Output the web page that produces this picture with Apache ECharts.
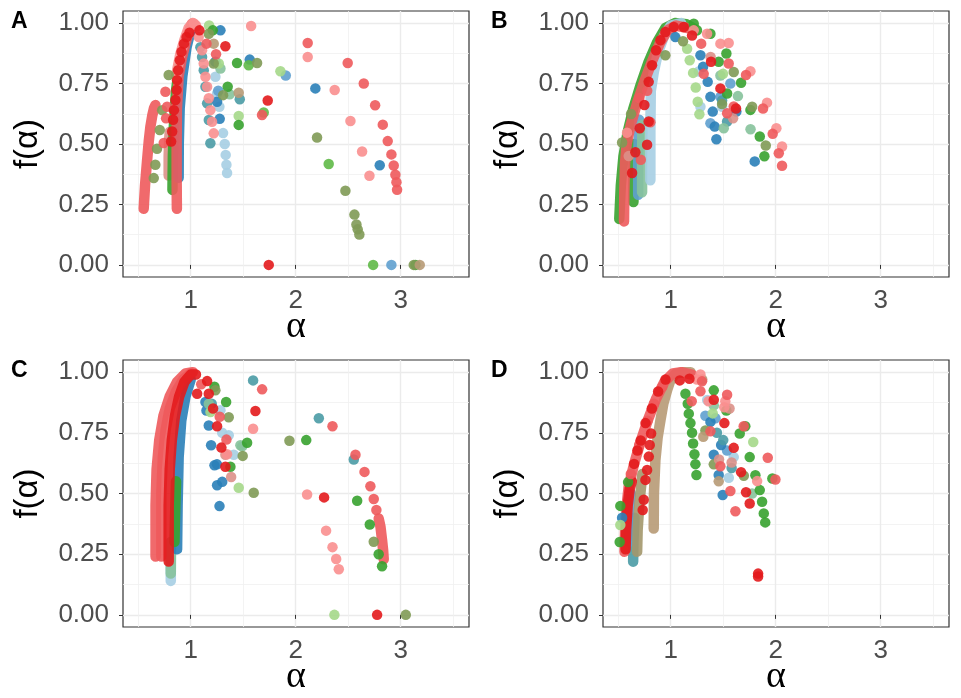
<!DOCTYPE html>
<html>
<head>
<meta charset="utf-8">
<script src="https://cdn.jsdelivr.net/npm/echarts@6/dist/echarts.min.js"></script>
<style>
  html, body { margin: 0; padding: 0; background: #fff; }
  #chart { width: 961px; height: 698px; }
</style>
</head>
<body>
<div id="chart"></div>
<script>
// tick values
const xMajorTicks = [1, 2, 3];
const xMinorTicks = [0.5, 1.5, 2.5, 3.5];
const yMajorTicks = [0, 0.25, 0.5, 0.75, 1];
const yMinorTicks = [0.125, 0.375, 0.625, 0.875];
const panelLetters = ['A', 'B', 'C', 'D'];

// ---- panel A ----
const aBandSalmonL = [[0.552,0.232],[0.565,0.33],[0.585,0.435],[0.600,0.51],[0.616,0.572],[0.635,0.62],[0.650,0.648],[0.664,0.661]];
const aBandRose = [[0.79,0.37],[0.79,0.45],[0.795,0.52],[0.80,0.55]];
const aBandGreen = [[0.826,0.31],[0.83,0.45],[0.84,0.58],[0.86,0.72],[0.89,0.82]];
const aBandBlue = [[0.885,0.36],[0.886,0.5],[0.895,0.65],[0.92,0.78],[0.96,0.9],[1.0,0.97]];
const aBandRed = [[0.868,0.232],[0.866,0.35],[0.866,0.5],[0.868,0.64],[0.885,0.78],[0.918,0.86],[0.95,0.915],[0.98,0.963],[1.01,0.997]];
const aBandPink = [[0.86,0.78],[0.9,0.87],[0.94,0.93],[0.98,0.98],[1.02,1.0],[1.05,0.99]];
const aRed = [[0.813,0.51],[0.823,0.552],[0.832,0.6],[0.84,0.64],[0.854,0.682],[0.865,0.723],[0.87,0.764],[0.88,0.805],[0.896,0.846],[0.912,0.881],[0.935,0.915],[0.96,0.942],[0.988,0.96],[1.083,0.97],[1.33,0.904],[1.733,0.68],[1.743,0.0]];
const aSalmon = [[0.743,0.504],[0.765,0.606],[0.759,0.716],[0.775,0.654],[1.15,0.915],[1.241,0.871],[1.679,0.62],[2.114,0.918],[2.495,0.835],[2.648,0.75],[2.756,0.66],[2.829,0.58],[2.876,0.512],[2.911,0.457],[2.933,0.411],[2.949,0.373],[2.959,0.342],[2.965,0.311]];
const aPink = [[1.03,0.998],[1.05,0.985],[1.076,0.942],[1.108,0.888],[1.124,0.833],[1.14,0.778],[1.156,0.737],[1.172,0.689],[1.187,0.64],[1.203,0.592],[1.219,0.544],[1.575,0.988],[2.114,0.86],[2.371,0.723],[2.521,0.595],[2.632,0.469],[2.702,0.369]];
const aTan = [[1.219,0.915],[1.457,0.712],[3.181,0.0]];
const aTeal = [[1.092,0.9],[1.108,0.86],[1.124,0.805],[1.14,0.737],[1.156,0.668],[1.172,0.599],[1.187,0.503],[1.467,0.685]];
const aLBlue = [[1.235,0.778],[1.251,0.709],[1.273,0.654],[1.308,0.545],[1.324,0.5],[1.333,0.455],[1.34,0.414],[1.346,0.38]];
const aMBlue = [[1.905,0.783],[2.911,0.0],[1.262,0.72]];
const aBlue = [[1.283,0.97],[1.562,0.849],[2.187,0.73],[2.8,0.412],[1.276,0.604],[1.251,0.675],[1.235,0.84]];
const aSage = [[1.371,0.706],[1.283,0.812]];
const aLGreen = [[1.175,0.99],[1.854,0.801],[1.457,0.616],[1.267,0.833]];
const aMGreen = [[1.552,0.826],[2.314,0.417],[2.737,0.0],[1.695,0.63]];
const aGreen = [[1.441,0.835],[1.457,0.579],[1.352,0.737],[3.14,0.0],[1.21,0.97]];
const aOlive = [[0.648,0.359],[0.663,0.414],[0.679,0.48],[0.705,0.558],[0.728,0.64],[0.79,0.785],[1.219,0.833],[1.308,0.702],[1.632,0.835],[2.203,0.527],[2.473,0.307],[2.559,0.208],[2.578,0.167],[2.59,0.147],[2.606,0.126],[3.124,0.0],[1.172,0.956]];

// ---- panel B ----
const bBandGreen = [[0.51,0.19],[0.525,0.33],[0.55,0.45],[0.59,0.55],[0.64,0.64],[0.71,0.74],[0.79,0.84],[0.87,0.92],[0.95,0.98],[1.04,1.0],[1.15,0.995],[1.25,0.97]];
const bBandGreen2 = [[0.645,0.26],[0.645,0.4],[0.65,0.5]];
const bBandSage = [[0.727,0.30],[0.727,0.45],[0.73,0.58]];
const bBandMBlue = [[0.69,0.29],[0.69,0.45],[0.70,0.6]];
const bBandLBlue = [[0.806,0.35],[0.806,0.55],[0.81,0.72],[0.84,0.8],[0.88,0.88],[0.94,0.95],[1.0,0.99],[1.1,1.0]];
const bBandSalmon = [[0.555,0.18],[0.558,0.30],[0.565,0.42],[0.58,0.5],[0.62,0.58],[0.68,0.67],[0.75,0.76],[0.82,0.84],[0.9,0.92],[0.97,0.97],[1.05,0.99],[1.15,0.98]];
const bRed = [[0.632,0.38],[0.663,0.466],[0.705,0.565],[0.749,0.661],[0.79,0.757],[0.822,0.826],[0.86,0.888],[0.902,0.929],[0.949,0.963],[1.029,0.984],[1.124,0.984],[1.203,0.949],[1.384,0.84],[1.473,0.73],[1.622,0.647],[0.79,0.593],[0.775,0.497]];
const bSalmon = [[0.715,0.435],[0.776,0.72],[0.806,0.59],[0.7,0.69],[1.29,0.915],[1.314,0.79],[1.552,0.833],[1.537,0.627],[1.717,0.785],[1.879,0.647],[1.971,0.542],[2.029,0.462],[2.06,0.41],[1.6,0.655]];
const bPink = [[1.552,0.918],[1.759,0.801],[1.917,0.671],[2.006,0.565],[2.06,0.49],[1.473,0.915],[1.346,0.956],[1.219,0.97],[0.584,0.547]];
const bRose = [[1.594,0.606],[1.38,0.86],[0.6,0.45]];
const bBlue = [[1.352,0.757],[1.378,0.695],[1.4,0.634],[1.419,0.572],[1.435,0.52],[1.8,0.428],[1.308,0.819],[1.283,0.867],[1.044,0.942],[1.625,0.634]];
const bMBlue = [[1.568,0.75],[1.473,0.695],[1.378,0.586]];
const bLBlue = [[1.283,0.654],[1.489,0.654],[1.267,0.8]];
const bLGreen = [[1.156,0.894],[1.181,0.846],[1.213,0.794],[1.238,0.734],[1.257,0.675],[1.273,0.623],[1.498,0.79]];
const bGreen = [[1.378,0.956],[1.53,0.874],[1.457,0.84],[1.537,0.709],[1.67,0.753],[1.759,0.641],[1.848,0.531],[1.892,0.449],[1.219,0.997]];
const bOlive = [[1.117,0.925],[1.6,0.798],[1.489,0.665],[1.775,0.654],[1.905,0.494],[0.537,0.506],[0.622,0.624],[0.949,0.867]];
const bSage = [[1.64,0.698],[1.76,0.561],[1.505,0.565],[1.473,0.783]];
const bTeal = [[1.489,0.68],[1.537,0.593]];

// ---- panel C ----
const cBandSalmon1 = [[0.665,0.24],[0.665,0.45],[0.675,0.6],[0.70,0.72],[0.74,0.82],[0.80,0.9],[0.87,0.96],[0.95,0.995],[1.02,1.0]];
const cBandSalmon2 = [[0.72,0.24],[0.72,0.5],[0.735,0.65],[0.76,0.76],[0.80,0.85],[0.86,0.92],[0.93,0.97],[1.0,0.995]];
const cBandLBlue = [[0.81,0.14],[0.81,0.3]];
const cBandSage = [[0.81,0.17],[0.812,0.3]];
const cBandBlue = [[0.87,0.27],[0.875,0.45],[0.885,0.65],[0.91,0.8],[0.95,0.9],[1.0,0.97]];
const cBandGreen = [[0.845,0.3],[0.85,0.4],[0.86,0.55]];
const cBandRed = [[0.79,0.22],[0.79,0.45],[0.80,0.6],[0.82,0.72],[0.85,0.82],[0.89,0.9],[0.94,0.96],[1.0,0.99],[1.05,0.99]];
const cBandSalmonR = [[2.79,0.397],[2.807,0.363],[2.822,0.308],[2.832,0.267],[2.838,0.229]];
const cRed = [[1.061,0.911],[1.172,0.911],[1.213,0.85],[1.251,0.777],[1.292,0.689],[1.33,0.61],[1.156,0.963],[1.616,0.84],[2.27,0.484],[2.775,0.0]];
const cSalmon = [[1.68,0.929],[2.35,0.777],[2.569,0.66],[2.655,0.589],[2.711,0.53],[2.743,0.477],[2.768,0.432],[1.276,0.816],[1.34,0.722],[1.1,0.95]];
const cPink = [[1.594,0.767],[2.108,0.496],[2.289,0.347],[2.35,0.279],[2.385,0.23],[2.41,0.188],[1.346,0.662]];
const cRose = [[1.385,0.568],[1.33,0.66]];
const cTeal = [[1.594,0.966],[2.22,0.81],[2.553,0.64],[1.2,0.87]];
const cBlue = [[1.14,0.877],[1.15,0.842],[1.172,0.78],[1.194,0.699],[1.226,0.616],[1.251,0.534],[1.274,0.448],[1.3,0.548],[1.25,0.62]];
const cLBlue = [[1.283,0.843],[1.362,0.74],[1.41,0.66],[1.3,0.75]];
const cGreen = [[1.337,0.877],[1.226,0.94],[1.537,0.709],[2.1,0.72],[2.585,0.47],[2.705,0.372],[2.79,0.25],[2.822,0.2],[1.378,0.61]];
const cOlive = [[1.362,0.814],[1.495,0.655],[1.6,0.503],[1.235,0.925],[1.94,0.717],[2.743,0.301],[3.048,0.0]];
const cLGreen = [[1.457,0.524],[2.368,0.0],[1.188,0.836]];
const cSage = [[1.49,0.694],[1.172,0.87],[1.473,0.699]];

// ---- panel D ----
const dBandSalmonEnv = [[0.56,0.26],[0.565,0.35],[0.58,0.45],[0.6,0.53],[0.65,0.62],[0.71,0.71],[0.78,0.8],[0.86,0.89],[0.94,0.96],[1.02,0.995],[1.1,1.0],[1.2,0.99]];
const dBandTeal = [[0.642,0.219],[0.645,0.3],[0.655,0.4]];
const dBandBlue = [[0.6,0.3],[0.6,0.42],[0.62,0.5]];
const dBandKhaki = [[0.68,0.26],[0.685,0.35],[0.7,0.45],[0.711,0.5],[0.73,0.58]];
const dBandTan = [[0.838,0.356],[0.84,0.5],[0.854,0.637],[0.875,0.73],[0.902,0.801],[0.93,0.87],[0.965,0.925],[1.0,0.97],[1.045,0.993],[1.12,1.0],[1.19,1.0]];
const dBandRed = [[0.57,0.27],[0.575,0.35],[0.59,0.45],[0.61,0.52],[0.63,0.55]];
const dRed = [[0.733,0.432],[0.743,0.474],[0.759,0.556],[0.775,0.597],[0.791,0.652],[0.8,0.7],[0.813,0.747],[0.651,0.622],[0.683,0.677],[0.714,0.718],[0.76,0.79],[0.82,0.85],[0.88,0.92],[0.95,0.97],[1.086,0.966],[1.178,0.973],[1.41,0.886],[1.511,0.79],[1.6,0.688],[1.67,0.588],[1.717,0.505],[1.752,0.459],[1.832,0.158],[1.832,0.17]];
const dSalmon = [[1.298,0.962],[1.283,0.921],[1.378,0.756],[1.695,0.777],[1.616,0.427],[1.568,0.51],[1.924,0.647],[1.997,0.558],[1.537,0.907],[1.473,0.612],[1.2,0.88],[0.62,0.58],[0.7,0.7],[0.78,0.8],[0.84,0.87],[0.92,0.94]];
const dPink = [[1.283,0.99],[1.51,0.855],[1.823,0.551],[1.52,0.88],[1.36,0.88],[1.25,0.97]];
const dGreen = [[1.14,0.911],[1.162,0.87],[1.172,0.829],[1.188,0.79],[1.203,0.75],[1.213,0.706],[1.226,0.662],[1.235,0.621],[1.245,0.576],[1.41,0.925],[1.53,0.842],[1.657,0.747],[1.71,0.777],[1.752,0.65],[1.806,0.575],[1.848,0.514],[1.87,0.466],[1.886,0.418],[1.9,0.381],[1.968,0.562],[0.52,0.449],[0.514,0.3],[0.594,0.547]];
const dBlue = [[1.457,0.576],[1.495,0.494],[1.41,0.66],[1.378,0.795],[1.48,0.7],[0.537,0.40]];
const dMBlue = [[1.537,0.677],[1.426,0.81],[1.33,0.82]];
const dLBlue = [[1.553,0.565],[1.347,0.885],[1.6,0.65]];
const dTeal = [[1.5,0.72],[1.58,0.605],[1.44,0.75]];
const dLGreen = [[1.786,0.712],[0.52,0.37],[1.4,0.83]];
const dSage = [[1.41,0.863],[1.775,0.5]];
const dOlive = [[1.41,0.62],[1.696,0.573],[1.33,0.76]];
const dTan = [[1.457,0.55],[1.31,0.734],[1.3,0.97]];
const dRose = [[1.58,0.628],[1.46,0.64],[1.56,0.85]];

var col = {
  lblue: '#A6CEE3', mblue: '#5FA0CF', blue: '#2A7FB8', teal: '#4A9BA5', sage: '#86C29B',
  lgreen: '#A5D88A', mgreen: '#5FB947', green: '#37A22F', olive: '#7F9A55', khaki: '#A3976C',
  tan: '#B79A76', rose: '#DB9088', pink: '#FA8F8F', salmon: '#EE5A5C', red: '#E31A1C'
};

var panels = [
  {
    bands: [[aBandSalmonL, col.salmon], [aBandRose, col.rose], [aBandGreen, col.green], [aBandBlue, col.blue], [aBandRed, col.salmon], [aBandPink, col.pink]],
    dots: [[aLBlue, col.lblue], [aMBlue, col.mblue], [aBlue, col.blue], [aTeal, col.teal], [aSage, col.sage], [aLGreen, col.lgreen],
           [aMGreen, col.mgreen], [aGreen, col.green], [aOlive, col.olive], [aTan, col.tan], [aPink, col.pink], [aSalmon, col.salmon], [aRed, col.red]]
  },
  {
    bands: [[bBandGreen, col.green], [bBandGreen2, col.green], [bBandMBlue, col.mblue], [bBandSage, col.sage], [bBandLBlue, col.lblue], [bBandSalmon, col.salmon]],
    dots: [[bLBlue, col.lblue], [bMBlue, col.mblue], [bBlue, col.blue], [bTeal, col.teal], [bSage, col.sage], [bLGreen, col.lgreen],
           [bGreen, col.green], [bOlive, col.olive], [bRose, col.rose], [bPink, col.pink], [bSalmon, col.salmon], [bRed, col.red]]
  },
  {
    bands: [[cBandLBlue, col.lblue], [cBandSage, col.sage], [cBandBlue, col.blue], [cBandGreen, col.green], [cBandSalmon1, col.salmon], [cBandSalmon2, col.salmon], [cBandRed, col.red], [cBandSalmonR, col.salmon]],
    dots: [[cLBlue, col.lblue], [cBlue, col.blue], [cTeal, col.teal], [cSage, col.sage], [cLGreen, col.lgreen], [cGreen, col.green],
           [cOlive, col.olive], [cRose, col.rose], [cPink, col.pink], [cSalmon, col.salmon], [cRed, col.red]]
  },
  {
    bands: [[dBandTeal, col.teal], [dBandBlue, col.mblue], [dBandKhaki, col.khaki], [dBandTan, col.tan], [dBandSalmonEnv, col.salmon], [dBandRed, col.red]],
    dots: [[dLBlue, col.lblue], [dMBlue, col.mblue], [dBlue, col.blue], [dTeal, col.teal], [dSage, col.sage], [dLGreen, col.lgreen],
           [dGreen, col.green], [dOlive, col.olive], [dTan, col.tan], [dRose, col.rose], [dPink, col.pink], [dSalmon, col.salmon], [dRed, col.red]]
  }
];

var gridBoxes = [
  { left: 123, top: 11, width: 346, height: 266 },
  { left: 603, top: 11, width: 346, height: 266 },
  { left: 123, top: 360, width: 346, height: 267 },
  { left: 603, top: 360, width: 346, height: 267 }
];

var font = 'Liberation Sans, Arial, sans-serif';
var grid = [], xAxis = [], yAxis = [], series = [], graphic = [];

gridBoxes.forEach(function (b, g) {
  grid.push(Object.assign({ show: true, borderColor: '#333333', borderWidth: 1.2, backgroundColor: '#fff' }, b));
  xAxis.push({
    gridIndex: g, type: 'value', position: 'bottom', min: 0.355, max: 3.65,
    axisLine: { show: false },
    axisTick: { show: true, length: 4, customValues: xMajorTicks, lineStyle: { color: '#333' } },
    axisLabel: { customValues: xMajorTicks, fontSize: 26, color: '#4D4D4D', margin: 11, fontFamily: font },
    splitLine: { show: true, lineStyle: { color: '#EBEBEB', width: 1.4 } }
  });
  xAxis.push({
    gridIndex: g, type: 'value', position: 'bottom', min: 0.355, max: 3.65,
    axisLine: { show: false }, axisTick: { show: false, customValues: xMinorTicks },
    axisLabel: { show: false, customValues: xMinorTicks },
    splitLine: { show: true, lineStyle: { color: '#F0F0F0', width: 0.8 } }
  });
  yAxis.push({
    gridIndex: g, type: 'value', position: 'left', min: -0.05, max: 1.05,
    axisLine: { show: false },
    axisTick: { show: true, length: 4, customValues: yMajorTicks, lineStyle: { color: '#333' } },
    axisLabel: { customValues: yMajorTicks, fontSize: 26, color: '#4D4D4D', margin: 14, fontFamily: font,
      formatter: function (v) { return v.toFixed(2); } },
    splitLine: { show: true, lineStyle: { color: '#EBEBEB', width: 1.4 } }
  });
  yAxis.push({
    gridIndex: g, type: 'value', position: 'left', min: -0.05, max: 1.05,
    axisLine: { show: false }, axisTick: { show: false, customValues: yMinorTicks },
    axisLabel: { show: false, customValues: yMinorTicks },
    splitLine: { show: true, lineStyle: { color: '#F0F0F0', width: 0.8 } }
  });

  var p = panels[g];
  p.bands.forEach(function (s) {
    series.push({
      type: 'line', xAxisIndex: g * 2, yAxisIndex: g * 2, data: s[0],
      showSymbol: false, symbol: 'none', silent: true, z: 2,
      lineStyle: { color: s[1], width: 10.5, cap: 'round', join: 'round', opacity: 0.9 }
    });
  });
  p.dots.forEach(function (s) {
    series.push({
      type: 'scatter', xAxisIndex: g * 2, yAxisIndex: g * 2, data: s[0],
      symbolSize: 10.5, z: 3, itemStyle: { color: s[1], opacity: 0.9 }
    });
  });

  // panel letter and axis titles
  var cx = b.left + b.width / 2, cy = b.top + b.height / 2;
  graphic.push({ type: 'text', x: b.left - 112, y: b.top + 11, style: {
    text: panelLetters[g], font: 'bold 23px ' + font, fill: '#000', textVerticalAlign: 'middle' } });
  graphic.push({ type: 'text', x: b.left - 95, y: cy, rotation: Math.PI / 2, style: {
    text: 'f(α)', font: '33px ' + font, fill: '#000', textAlign: 'center', textVerticalAlign: 'middle' } });
  graphic.push({ type: 'text', x: cx, y: b.top + b.height + 50, style: {
    text: 'α', font: '38px Liberation Serif, serif', fill: '#000', textAlign: 'center', textVerticalAlign: 'middle' } });
});

var chart = echarts.init(document.getElementById('chart'));
chart.setOption({
  animation: false,
  backgroundColor: '#fff',
  grid: grid,
  xAxis: xAxis,
  yAxis: yAxis,
  series: series,
  graphic: graphic
});
</script>
</body>
</html>
